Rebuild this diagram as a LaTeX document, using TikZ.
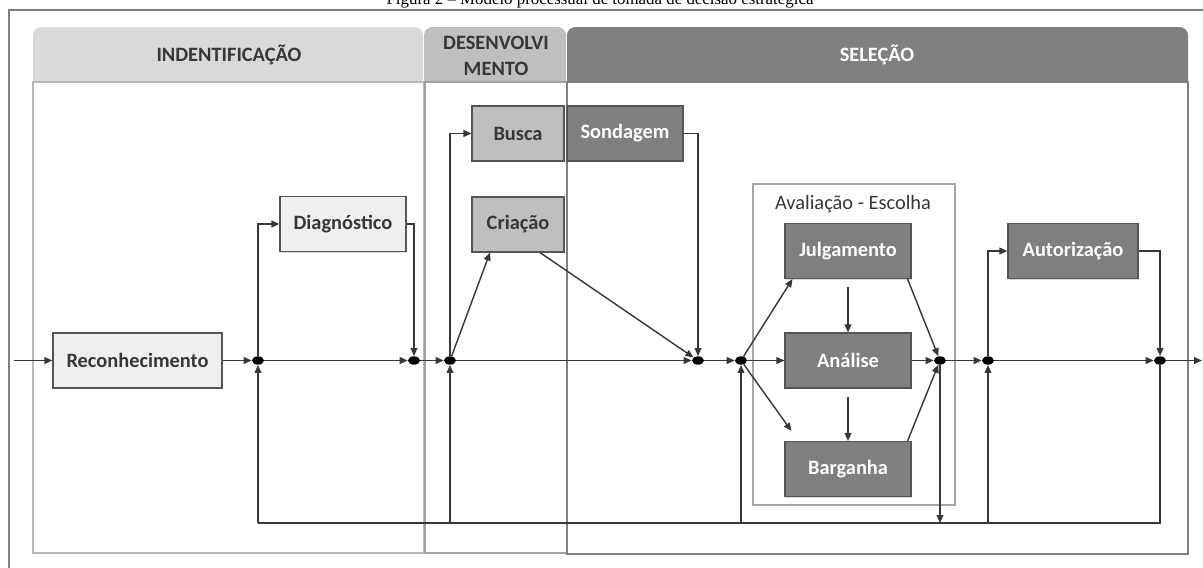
\documentclass[tikz,border=0pt]{standalone}
\usepackage{fontspec}
\setmainfont{Carlito}
\newfontfamily\capfont{Liberation Serif}
\usepackage{xcolor}
\usepackage{tikz}
\usetikzlibrary{arrows.meta, positioning, shapes.geometric, shadows}
\definecolor{g1}{RGB}{239,239,239}
\definecolor{g2}{RGB}{191,191,191}
\definecolor{g3}{RGB}{127,127,127}
\definecolor{ln}{RGB}{55,55,55}
\definecolor{hd1}{RGB}{217,217,217}
\definecolor{hd2}{RGB}{191,191,191}
\definecolor{hd3}{RGB}{128,128,128}

\begin{document}
\begin{tikzpicture}[x=0.025cm, y=-0.025cm,
  stage/.style={draw=ln!85, line width=0.8pt, minimum height=1.375cm, align=center,
                font=\fontsize{14.5}{17}\selectfont\bfseries,
                drop shadow={shadow xshift=1pt, shadow yshift=-1pt, opacity=0.3}},
  light/.style={stage, fill=g1, text=ln},
  mid/.style={stage, fill=g2, text=ln},
  dark/.style={stage, fill=g3, text=white},
  hdr/.style={font=\fontsize{14.5}{18.5}\selectfont\bfseries, align=center},
  dot/.style={ellipse, fill=black, inner sep=0pt, minimum width=0.3cm, minimum height=0.21cm},
  flow/.style={draw=ln, line width=1pt, -{Triangle[length=0.2cm, width=0.17cm]}},
  line/.style={draw=ln, line width=1pt}
]
\useasboundingbox (0,0) rectangle (1203,567);

\node[font=\capfont\fontsize{12}{14}\selectfont, anchor=base] (cap) at (600,4)
  {Figura 2 – Modelo processual de tomada de decisão estratégica};
\draw[g3, line width=1.2pt] (9,570) -- (9,10) -- (1206,10);

% fases
\fill[hd1, rounded corners=6pt] (33,27) rectangle (423,95);
\fill[hd2, rounded corners=6pt] (424,27) rectangle (566,95);
\fill[hd3, rounded corners=6pt] (567,27) rectangle (1188,95);
\draw[hd1!85!black, line width=1.2pt, fill=white] (33,82) rectangle (424,553);
\draw[hd2!85!black, line width=1.2pt, fill=white] (425,82) rectangle (567,553);
\draw[hd3, line width=1.4pt, fill=white] (567,82) rectangle (1188,554);
\node[hdr, text=ln] (hid) at (229,55) {INDENTIFICAÇÃO};
\node[hdr, text=ln] (hdev) at (496,56) {DESENVOLVI\\MENTO};
\node[hdr, text=white] (hsel) at (877,55) {SELEÇÃO};

\draw[hd3!70, line width=0.8pt, fill=white] (753,184) rectangle (955,505);
\node[font=\fontsize{14.5}{17}\selectfont, text=ln] (aval) at (853,204) {Avaliação - Escolha};

\node[light, minimum width=4.225cm] (rec)  at (137.5,360.5) {Reconhecimento};
\node[light, minimum width=3.15cm]  (diag) at (343,224) {Diagnóstico};
\node[mid,   minimum width=2.3cm]   (busc) at (518,133.5) {Busca};
\node[mid,   minimum width=2.3cm]   (cria) at (518,224.5) {Criação};
\node[dark,  minimum width=2.9cm]   (sond) at (625,133.5) {Sondagem};
\node[dark,  minimum width=3.15cm]  (julg) at (848,251) {Julgamento};
\node[dark,  minimum width=3.15cm]  (anal) at (848,360.5) {Análise};
\node[dark,  minimum width=3.15cm]  (barg) at (848,469) {Barganha};
\node[dark,  minimum width=3.25cm]  (aut)  at (1073,251) {Autorização};

\foreach \n/\x in {j1/258, j2/414, j3/450, j4/698, j5/741, j6/940, j7/988, j8/1160}
  \node[dot] (\n) at (\x,360.5) {};

\coordinate (in)  at (14,360.5);
\coordinate (out) at (1202,360.5);
\foreach \n/\x in {f1/258, f3/450, f5/741, f6/940, f7/988}
  \coordinate (\n) at (\x,523);

\foreach \a/\b in {in/rec, rec/j1, j1/j2, j2/j3, j3/j4, j4/j5, j5/anal, anal/j6, j6/j7, j7/j8, j8/out, j6/f6,
                   f1/j1, f3/j3, f5/j5, f7/j7}
  \draw[flow] (\a) -- (\b);

\draw[flow] (j1) |- (diag.west);
\draw[flow] (diag.east) -| (j2.north);
\draw[flow] (j3) |- (busc.west);
\draw[flow] (j3) -- ([xshift=-0.7cm]cria.south);
\draw[flow] ([xshift=0.55cm]cria.south) -- (j4);
\draw[flow] (sond.east) -| (j4.north);
\draw[flow] (j5) -- ([xshift=0.2cm]julg.south west);
\draw[flow] (j5) -- ([shift={(0.175cm,0.25cm)}]barg.north west);
\draw[flow, shorten <=0.2cm] (julg) -- (anal);
\draw[flow, shorten <=0.2cm] (anal) -- (barg);
\draw[flow] ([xshift=-0.1cm]julg.south east) -- (j6);
\draw[flow] ([xshift=-0.1cm]barg.north east) -- (j6);
\draw[flow] (j7) |- (aut.west);
\draw[flow] (aut.east) -| (j8.north);
\draw[line] (j8) |- (f1);
\end{tikzpicture}
\end{document}
